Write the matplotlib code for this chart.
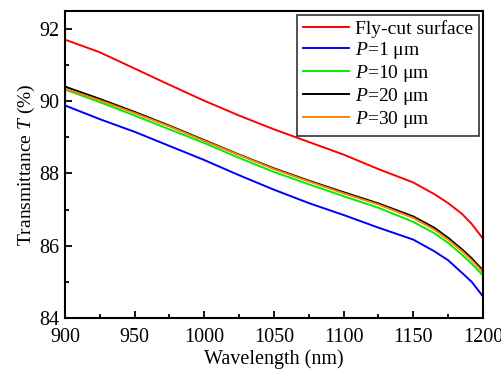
import numpy as np
import matplotlib
matplotlib.use('Agg')
import matplotlib.pyplot as plt
from matplotlib.ticker import MultipleLocator

plt.rcParams['font.family'] = 'Liberation Serif'
plt.rcParams['mathtext.fontset'] = 'custom'
plt.rcParams['mathtext.rm'] = 'Liberation Serif'
plt.rcParams['mathtext.it'] = 'Liberation Serif:italic'

# 透过率光谱数据 (波长 nm, 透过率 %)
wavelength = [900, 925, 950, 975, 1000, 1025, 1050, 1075, 1100, 1125,
              1150, 1165, 1175, 1185, 1192, 1200]
t_flycut = [91.70, 91.35, 90.90, 90.45, 90.01, 89.60, 89.22, 88.87, 88.52, 88.12,
            87.75, 87.43, 87.18, 86.88, 86.60, 86.20]
t_p1 = [89.88, 89.50, 89.15, 88.76, 88.37, 87.95, 87.55, 87.18, 86.85, 86.50,
        86.17, 85.85, 85.60, 85.25, 85.00, 84.60]
t_p10 = [90.32, 89.97, 89.60, 89.22, 88.84, 88.43, 88.04, 87.70, 87.37, 87.05,
         86.66, 86.35, 86.08, 85.75, 85.50, 85.18]
t_p20 = [90.40, 90.06, 89.70, 89.32, 88.92, 88.52, 88.14, 87.80, 87.48, 87.17,
         86.81, 86.50, 86.22, 85.90, 85.65, 85.32]
t_p30 = [90.34, 90.02, 89.67, 89.30, 88.90, 88.51, 88.12, 87.78, 87.45, 87.14,
         86.77, 86.45, 86.17, 85.85, 85.60, 85.27]

labels = ['Fly-cut surface', '$P$=1 μm', '$P$=10 μm', '$P$=20 μm', '$P$=30 μm']
colors = ['#ff0000', '#0000ff', '#00ee00', '#000000', '#ff8000']
series = [t_flycut, t_p1, t_p10, t_p20, t_p30]

fig = plt.figure(figsize=(5.02, 3.69), dpi=100)
ax = fig.add_axes([0.1295, 0.138, 0.8325, 0.833])

for y, c, lab in zip(series, colors, labels):
    ax.plot(wavelength, y, color=c, linewidth=1.4, label=lab)

ax.set_xlim(900, 1200)
ax.set_ylim(84, 92.5)
ax.xaxis.set_major_locator(MultipleLocator(50))
ax.xaxis.set_minor_locator(MultipleLocator(25))
ax.yaxis.set_major_locator(MultipleLocator(2))
ax.yaxis.set_minor_locator(MultipleLocator(1))
ax.tick_params(which='both', direction='in', top=False, right=False, labelsize=14.5, width=1.3)
ax.tick_params(which='major', length=5)
ax.tick_params(which='minor', length=3)
ax.tick_params(axis='x', which='major', pad=7)
ax.tick_params(axis='y', which='major', pad=4)
for s in ax.spines.values():
    s.set_linewidth(1.5)

ax.set_xlabel('Wavelength (nm)', fontsize=14.5, labelpad=2)
ax.set_ylabel('Transmittance $T$ (%)', fontsize=14, labelpad=2)

leg = ax.legend(loc='upper right', fontsize=14, frameon=True, fancybox=False,
                edgecolor='black', handlelength=2.4, handletextpad=0.3,
                labelspacing=0.1, borderpad=0.3, borderaxespad=0.2)
leg.get_frame().set_linewidth(1.2)

fig.savefig('out.png', dpi=100)
